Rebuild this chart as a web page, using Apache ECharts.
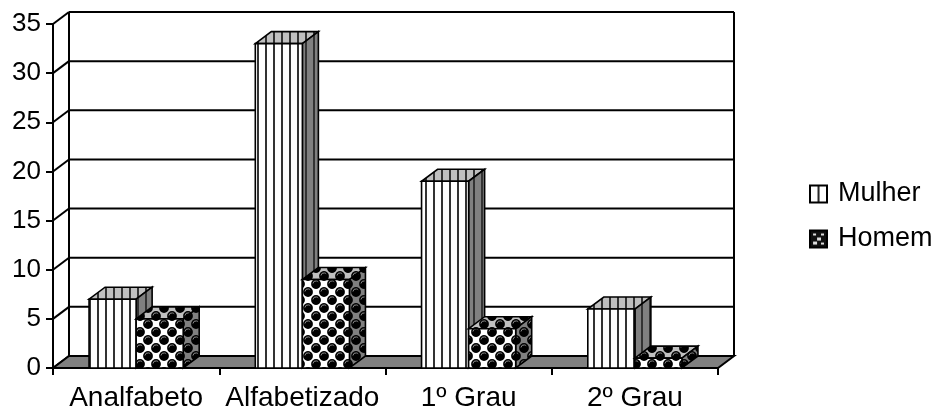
<!DOCTYPE html>
<html>
<head>
<meta charset="utf-8">
<style>html,body{margin:0;padding:0;background:#fff}#chart{width:932px;height:409px}</style>
<script src="https://cdn.jsdelivr.net/npm/echarts@6/dist/echarts.min.js"></script>
</head>
<body>
<div id="chart"></div>
<script>
const categories = ['Analfabeto', 'Alfabetizado', '1º Grau', '2º Grau'];
const mulher = [7, 33, 19, 6];
const homem = [5, 9, 4, 1];
const yTicks = [0, 5, 10, 15, 20, 25, 30, 35];

const FONT = '"Liberation Sans", Arial, sans-serif';
const DX = 16, DY = -12;          // oblique offset of the box depth
const BAR_SHARE = 47 / 166;       // bar width as a share of one category

function tile(w, h, paint) {
  const c = document.createElement('canvas');
  c.width = w; c.height = h;
  paint(c.getContext('2d'));
  return { image: c, repeat: 'repeat' };
}
function stripes(bg, line) {
  return tile(8, 8, g => {
    g.fillStyle = bg; g.fillRect(0, 0, 8, 8);
    g.fillStyle = line; g.fillRect(1, 0, 2, 8);
  });
}
// Staggered shaded spheres on a plain ground.
function balls(bg) {
  return tile(16, 16, g => {
    g.fillStyle = bg; g.fillRect(0, 0, 16, 16);
    [[4, 4], [12, 12], [-4, 12], [20, 4], [4, 20], [12, -4]].forEach(([x, y]) => {
      g.fillStyle = '#000';
      g.beginPath(); g.arc(x, y, 4.9, 0, 7); g.fill();
      g.strokeStyle = '#8c8c8c';
      g.lineWidth = 1;
      g.beginPath(); g.arc(x, y, 3.1, Math.PI * 1.05, Math.PI * 1.75); g.stroke();
    });
  });
}
const fills = {
  Mulher: { front: stripes('#fff', '#333'), top: stripes('#c0c0c0', '#333'), side: stripes('#808080', '#333') },
  Homem: { front: balls('#fff'), top: balls('#c0c0c0'), side: balls('#808080') }
};

// Small legend keys: a pane split in two, and a dark tile with light flecks.
const keyMulher = tile(17, 17, g => {
  g.fillStyle = '#fff'; g.fillRect(0, 0, 17, 17);
  g.fillStyle = '#222'; g.fillRect(7.5, 0, 2, 17);
});
const keyHomem = tile(17, 17, g => {
  g.fillStyle = '#111'; g.fillRect(0, 0, 17, 17);
  g.fillStyle = '#ddd';
  g.fillRect(3, 3, 3, 2); g.fillRect(11, 3, 3, 2);
  g.fillRect(7, 7, 4, 3); g.fillRect(3, 11, 4, 3); g.fillRect(11, 12, 3, 2);
});

function poly(points, fill) {
  return {
    type: 'polygon',
    shape: { points },
    style: { fill, stroke: '#000', lineWidth: 1.6 }
  };
}

function barRenderer(name, slot) {
  return function (params, api) {
    const base = api.coord([api.value(0), 0]);
    const top = api.coord([api.value(0), api.value(1)]);
    const w = api.size([1, 0])[0] * BAR_SHARE;
    const x0 = base[0] - w + slot * w;
    const x1 = x0 + w;
    const yb = base[1], yt = top[1];
    const f = fills[name];
    return {
      type: 'group',
      children: [
        poly([[x0, yt], [x1, yt], [x1 + DX, yt + DY], [x0 + DX, yt + DY]], f.top),
        poly([[x1, yt], [x1 + DX, yt + DY], [x1 + DX, yb + DY], [x1, yb]], f.side),
        poly([[x0, yb], [x1, yb], [x1, yt], [x0, yt]], f.front)
      ]
    };
  };
}

// Back wall, floor, gridlines and the oblique connectors at each tick.
function frameRenderer(params, api) {
  const cs = params.coordSys;
  const v = api.value(0);
  const left = cs.x, right = cs.x + cs.width;
  const y = api.coord([0, v])[1];
  const line = (x1, y1, x2, y2) => ({
    type: 'line',
    shape: { x1, y1, x2, y2 },
    style: { stroke: '#000', lineWidth: 2 }
  });
  const children = [
    line(left + DX, y + DY, right + DX, y + DY),
    line(left, y, left + DX, y + DY)
  ];
  if (v === 0) {
    const topY = cs.y + DY;
    children.push(
      line(left + DX, topY, left + DX, y + DY),
      line(right + DX, topY, right + DX, y + DY),
      {
        type: 'polygon',
        shape: { points: [[left, y], [right, y], [right + DX, y + DY], [left + DX, y + DY]] },
        style: { fill: '#808080', stroke: '#000', lineWidth: 2 }
      }
    );
  }
  return { type: 'group', children };
}

function barSeries(name, values, slot) {
  return {
    name,
    type: 'custom',
    coordinateSystem: 'cartesian2d',
    renderItem: barRenderer(name, slot),
    data: values.map((v, i) => [i, v]),
    encode: { x: 0, y: 1 },
    itemStyle: { color: fills[name].front, borderColor: '#000', borderWidth: 1.5 },
    z: 3,
    silent: true,
    animation: false
  };
}

const chart = echarts.init(document.getElementById('chart'), null, { renderer: 'canvas' });
chart.setOption({
  animation: false,
  backgroundColor: '#fff',
  textStyle: { fontFamily: FONT },
  grid: { left: 53, top: 24, width: 665, height: 344, containLabel: false, outerBoundsMode: 'none' },
  legend: {
    orient: 'vertical',
    left: 804,
    top: 175,
    itemWidth: 17,
    itemHeight: 17,
    itemGap: 17,
    selectedMode: false,
    textStyle: { fontSize: 27, lineHeight: 27, color: '#000', fontFamily: FONT, padding: [1, 0, 0, 6] },
    data: [
      { name: 'Mulher', icon: 'rect', itemStyle: { color: keyMulher, borderColor: '#000', borderWidth: 2 } },
      { name: 'Homem', icon: 'rect', itemStyle: { color: keyHomem, borderColor: '#000', borderWidth: 2 } }
    ]
  },
  xAxis: {
    type: 'category',
    data: categories,
    boundaryGap: true,
    axisLine: { lineStyle: { color: '#000', width: 2 } },
    axisTick: { show: true, length: 7, lineStyle: { color: '#000', width: 2 } },
    axisLabel: { color: '#000', fontSize: 28, margin: 16, interval: 0, fontFamily: FONT },
    splitLine: { show: false }
  },
  yAxis: {
    type: 'value',
    min: 0,
    max: 35,
    interval: 5,
    axisLine: { show: true, lineStyle: { color: '#000', width: 2 } },
    axisTick: { show: true, length: 7, lineStyle: { color: '#000', width: 2 } },
    axisLabel: { color: '#000', fontSize: 26, margin: 12, fontFamily: FONT },
    splitLine: { show: false }
  },
  series: [
    {
      type: 'custom',
      name: 'frame',
      coordinateSystem: 'cartesian2d',
      renderItem: frameRenderer,
      data: yTicks.map(v => [v]),
      encode: { y: 0 },
      z: 1,
      silent: true
    },
    barSeries('Mulher', mulher, 0),
    barSeries('Homem', homem, 1)
  ]
});
</script>
</body>
</html>
